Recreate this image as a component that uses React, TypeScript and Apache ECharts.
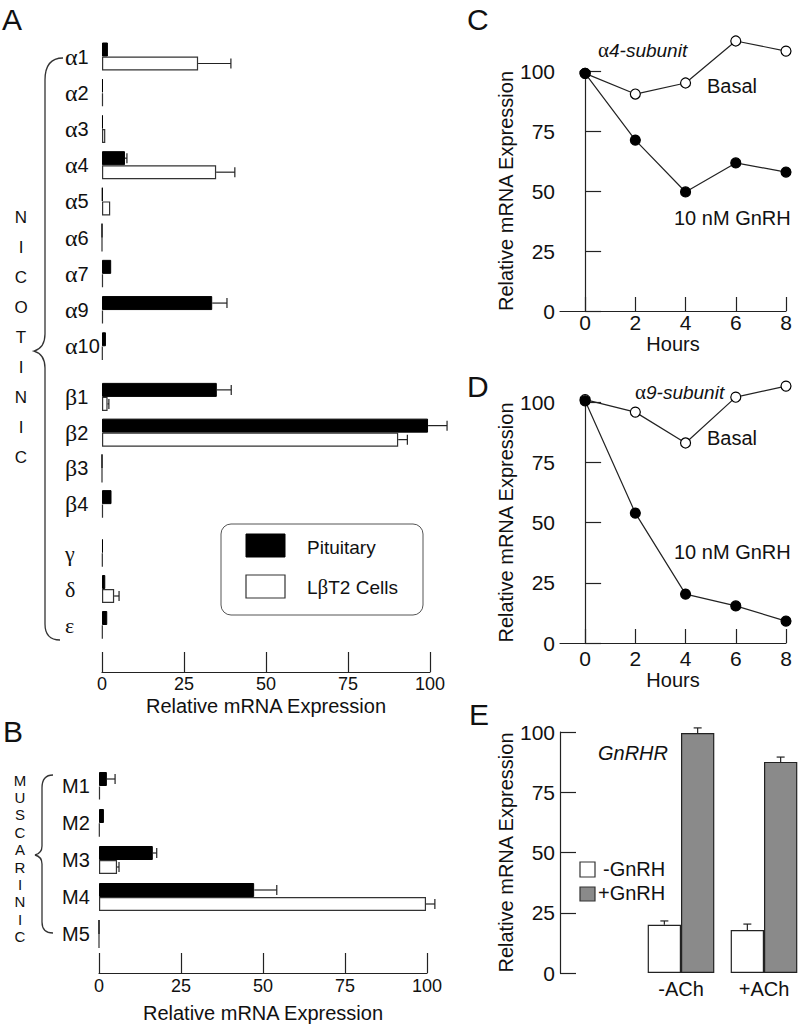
import React, { useEffect, useRef } from 'react';
import * as echarts from 'echarts';

// ---------- data ----------
const alphaCats = ['α1', 'α2', 'α3', 'α4', 'α5', 'α6', 'α7', 'α9', 'α10'];
const alphaPituitary = [1.8, 0.3, 0.3, 7.0, 0.2, 0, 2.8, 33.6, 1.2];
const alphaPituitaryErr = [0, 0, 0, 0.6, 0, 0, 0, 4.5, 0];
const alphaLbt2 = [29.3, 0.3, 1.0, 34.8, 2.5, 0, 0.3, 0.3, 0.2];
const alphaLbt2Err = [10, 0, 0, 5.7, 0, 0, 0, 0, 0];

const betaCats = ['β1', 'β2', 'β3', 'β4'];
const betaPituitary = [35, 99.4, 0, 2.9];
const betaPituitaryErr = [4.4, 5.8, 0, 0];
const betaLbt2 = [1.7, 90.3, 0, 0.3];
const betaLbt2Err = [0.4, 2.8, 0, 0];

const otherCats = ['γ', 'δ', 'ε'];
const otherPituitary = [0.3, 1.0, 1.6];
const otherPituitaryErr = [0, 0, 0];
const otherLbt2 = [0.2, 3.7, 0.2];
const otherLbt2Err = [0, 1.5, 0];

const muscCats = ['M1', 'M2', 'M3', 'M4', 'M5'];
const muscPituitary = [2.4, 1.5, 16.4, 47.3, 0];
const muscPituitaryErr = [2.5, 0, 1.2, 6.9, 0];
const muscLbt2 = [0.3, 0.2, 5.5, 99.7, 0];
const muscLbt2Err = [0, 0, 0.6, 2.7, 0];

const hours = [0, 2, 4, 6, 8];
const a4Basal = [99, 90.4, 95, 112.5, 108.3];
const a4GnRH = [99, 71.2, 49.6, 61.7, 57.9];
const a9Basal = [101, 95.8, 83, 102, 106.6];
const a9GnRH = [100.5, 53.9, 20.3, 15.4, 9.1];

const achCats = ['-ACh', '+ACh'];
const minusGnRH = [20, 17.8];
const minusGnRHErr = [1.6, 2.5];
const plusGnRH = [99.6, 87.6];
const plusGnRHErr = [2.1, 2.0];

const nicotinicWord = 'NICOTINIC';
const muscarinicWord = 'MUSCARINIC';

// ---------- style ----------
const SANS = '"Liberation Sans", Arial, Helvetica, sans-serif';
const SERIF = '"Liberation Serif", "Times New Roman", serif';
const INK = '#111';
const LINE = '#222';
const GRAY = '#8a8a8a';

const BRACE_A =
  'M63,58 C53,58 45,63 45,80 L45,334 C45,344 41,349 34,351 C41,353 45,358 45,368 L45,624 C45,634 50,640 60,640';
const BRACE_B =
  'M53,775 C46,775 42,779 42,788 L42,846 C42,851 39,854 35,855 C39,856 42,859 42,864 L42,922 C42,929 46,933 53,933';

echarts.graphic.registerShape('braceA', echarts.graphic.extendPath(BRACE_A, {}));
echarts.graphic.registerShape('braceB', echarts.graphic.extendPath(BRACE_B, {}));

const greekFormatter = (v: string) => {
  const g = v.charAt(0);
  const rest = v.slice(1);
  if (g === 'M') return `{n|${v}}`;
  if (!rest) return `{s|${g}}`;
  return `{g|${g}}{n|${rest}}`;
};
const greekRich = {
  g: { fontFamily: SERIF, fontSize: 24, color: INK },
  s: { fontFamily: SERIF, fontSize: 22, color: INK },
  n: { fontFamily: SANS, fontSize: 20, color: INK },
};

const hErr = (offset: number) => (_p: any, api: any) => {
  const v = api.value(0);
  const e = api.value(1);
  const c = api.value(2);
  if (!e) return { type: 'group', children: [] };
  const p0 = api.coord([v, c]);
  const p1 = api.coord([v + e, c]);
  const y = p0[1] + offset;
  const st = { stroke: LINE, lineWidth: 1.2 };
  return {
    type: 'group',
    children: [
      { type: 'line', shape: { x1: p0[0], y1: y, x2: p1[0], y2: y }, style: st },
      { type: 'line', shape: { x1: p1[0], y1: y - 5, x2: p1[0], y2: y + 5 }, style: st },
    ],
  };
};

const vErr = (offset: number) => (_p: any, api: any) => {
  const c = api.value(0);
  const v = api.value(1);
  const e = api.value(2);
  const p0 = api.coord([c, v]);
  const p1 = api.coord([c, v + e]);
  const x = p0[0] + offset;
  const st = { stroke: LINE, lineWidth: 1.2 };
  return {
    type: 'group',
    children: [
      { type: 'line', shape: { x1: x, y1: p0[1], x2: x, y2: p1[1] }, style: st },
      { type: 'line', shape: { x1: x - 4, y1: p1[1], x2: x + 4, y2: p1[1] }, style: st },
    ],
  };
};

function hBlock(gi: number, cats: string[], pit: number[], pitErr: number[], lbt: number[], lbtErr: number[]) {
  return [
    {
      type: 'bar', xAxisIndex: gi, yAxisIndex: gi, data: pit, barWidth: 14, barGap: '0%',
      itemStyle: { color: '#000', borderColor: '#000', borderWidth: 1 },
    },
    {
      type: 'bar', xAxisIndex: gi, yAxisIndex: gi, data: lbt, barWidth: 14, barGap: '0%',
      itemStyle: { color: '#fff', borderColor: '#333', borderWidth: 1.2 },
    },
    {
      type: 'custom', xAxisIndex: gi, yAxisIndex: gi, renderItem: hErr(-7), z: 3,
      data: cats.map((_, i) => [pit[i], pitErr[i], i]), encode: { x: 0, y: 2 },
    },
    {
      type: 'custom', xAxisIndex: gi, yAxisIndex: gi, renderItem: hErr(7), z: 3,
      data: cats.map((_, i) => [lbt[i], lbtErr[i], i]), encode: { x: 0, y: 2 },
    },
  ];
}

const catY = (gi: number, cats: string[]) => ({
  type: 'category', gridIndex: gi, data: cats, inverse: true,
  axisLine: { show: false }, axisTick: { show: false }, splitLine: { show: false },
  axisLabel: { margin: 37, align: 'left', formatter: greekFormatter, rich: greekRich, color: INK },
});

const pctX = (gi: number, show: boolean, offset: number, labelMargin: number, nameGap: number) => ({
  type: 'value', gridIndex: gi, min: 0, max: 100, interval: 25, show, offset,
  axisLine: { show: true, lineStyle: { color: LINE, width: 1.2 } },
  axisTick: { show: true, inside: true, length: 20, lineStyle: { color: LINE, width: 1.2 } },
  axisLabel: { fontSize: 18, margin: labelMargin, color: INK, fontFamily: SANS },
  splitLine: { show: false },
  name: 'Relative mRNA Expression', nameLocation: 'middle', nameGap,
  nameTextStyle: { fontSize: 20, color: INK, fontFamily: SANS },
});

const relY = (gi: number, offset = 0) => ({
  type: 'value', gridIndex: gi, min: 0, max: 100, interval: 25, offset,
  axisLine: { show: true, lineStyle: { color: LINE, width: 1.2 } },
  axisTick: { show: true, inside: true, length: 16, lineStyle: { color: LINE, width: 1.2 } },
  axisLabel: { fontSize: 21, margin: 5, color: INK, fontFamily: SANS },
  splitLine: { show: false },
  name: 'Relative mRNA Expression', nameLocation: 'middle', nameGap: 44,
  nameTextStyle: { fontSize: 20, color: INK, fontFamily: SANS },
});

const hoursX = (gi: number, labelMargin: number, nameGap: number) => ({
  type: 'value', gridIndex: gi, min: -1, max: 8,
  axisLine: { show: true, lineStyle: { color: LINE, width: 1.2 } },
  axisTick: { show: true, inside: true, length: 14, customValues: hours, lineStyle: { color: LINE, width: 1.2 } },
  axisLabel: { fontSize: 21, margin: labelMargin, color: INK, fontFamily: SANS, customValues: hours },
  splitLine: { show: false },
  name: 'Hours', nameLocation: 'middle', nameGap,
  nameTextStyle: { fontSize: 20, color: INK, fontFamily: SANS },
});

const lineSeries = (gi: number, vals: number[], filled: boolean) => ({
  type: 'line', xAxisIndex: gi, yAxisIndex: gi, clip: false,
  data: hours.map((h, i) => [h, vals[i]]),
  symbol: 'circle', symbolSize: 10,
  lineStyle: { color: LINE, width: 1.2 },
  itemStyle: { color: filled ? '#000' : '#fff', borderColor: '#000', borderWidth: 1.2 },
  z: filled ? 4 : 3,
});

const txt = (text: string, x: number, y: number, size: number, extra: any = {}) => ({
  type: 'text', x, y,
  style: { text, fontSize: size, fontFamily: SANS, fill: INK, align: 'left', verticalAlign: 'middle', ...extra },
});

const subunitRich = {
  g: { fontFamily: SERIF, fontSize: 21, fill: INK, color: INK },
  i: { fontFamily: SANS, fontSize: 19, fontStyle: 'italic', fill: INK, color: INK },
};

function buildGraphic() {
  const els: any[] = [];
  els.push({ type: 'braceA', x: 0, y: 0, style: { stroke: '#333', lineWidth: 1.3, fill: 'none' } });
  els.push({ type: 'braceB', x: 0, y: 0, style: { stroke: '#333', lineWidth: 1.3, fill: 'none' } });
  nicotinicWord.split('').forEach((ch, i) => {
    els.push(txt(ch, 21, 217 + i * 30, 17, { align: 'center' }));
  });
  muscarinicWord.split('').forEach((ch, i) => {
    els.push(txt(ch, 20, 780 + i * 17.4, 15, { align: 'center' }));
  });
  // panel letters
  els.push(txt('A', 2, 19, 30));
  els.push(txt('B', 3, 731, 30));
  els.push(txt('C', 467, 19, 30));
  els.push(txt('D', 467, 386, 30));
  els.push(txt('E', 469, 714, 30));
  // legend A
  els.push({ type: 'rect', shape: { x: 221, y: 524, width: 202, height: 91, r: 10 }, style: { fill: '#fff', stroke: '#555', lineWidth: 1 } });
  els.push({ type: 'rect', shape: { x: 246, y: 534, width: 39, height: 23 }, style: { fill: '#000', stroke: '#000', lineWidth: 1 } });
  els.push({ type: 'rect', shape: { x: 246, y: 575, width: 39, height: 23 }, style: { fill: '#fff', stroke: '#333', lineWidth: 1.2 } });
  els.push(txt('Pituitary', 307, 547, 19));
  els.push(txt('{n|L}{g|β}{n|T2 Cells}', 307, 587, 19, {
    rich: { n: { fontFamily: SANS, fontSize: 19, fill: INK, color: INK }, g: { fontFamily: SERIF, fontSize: 21, fill: INK, color: INK } },
  }));
  // legend E
  els.push({ type: 'rect', shape: { x: 580, y: 862, width: 15, height: 15 }, style: { fill: '#fff', stroke: '#333', lineWidth: 1.2 } });
  els.push({ type: 'rect', shape: { x: 580, y: 887, width: 15, height: 14 }, style: { fill: GRAY, stroke: '#333', lineWidth: 1.2 } });
  els.push(txt('-GnRH', 603, 869, 20));
  els.push(txt('+GnRH', 598, 893, 20));
  // annotations C
  els.push(txt('{g|α}{i|4-subunit}', 598, 50, 19, { rich: subunitRich }));
  els.push(txt('Basal', 707, 86, 20));
  els.push(txt('10 nM GnRH', 674, 218, 20));
  // annotations D
  els.push(txt('{g|α}{i|9-subunit}', 635, 392, 19, { rich: subunitRich }));
  els.push(txt('Basal', 707, 438, 20));
  els.push(txt('10 nM GnRH', 674, 552, 20));
  // annotation E
  els.push(txt('GnRHR', 598, 753, 20, { fontStyle: 'italic' }));
  return els;
}

export default function App() {
  const ref = useRef<HTMLDivElement>(null);

  useEffect(() => {
    if (!ref.current) return;
    const chart = echarts.init(ref.current, undefined, { renderer: 'svg' });
    const gridBase = { outerBoundsMode: 'none', containLabel: false };
    const option: any = {
      animation: false,
      backgroundColor: '#fff',
      textStyle: { fontFamily: SANS },
      grid: [
        { ...gridBase, left: 102, top: 38.4, width: 328, height: 326 },
        { ...gridBase, left: 102, top: 379, width: 328, height: 143 },
        { ...gridBase, left: 102, top: 535, width: 328, height: 108 },
        { ...gridBase, left: 99, top: 767.5, width: 328, height: 185 },
        { ...gridBase, left: 560, top: 71, width: 226, height: 240 },
        { ...gridBase, left: 560, top: 402, width: 226, height: 241 },
        { ...gridBase, left: 639.5, top: 732, width: 166, height: 241 },
      ],
      xAxis: [
        pctX(0, false, 0, 3, 24),
        pctX(1, false, 0, 3, 24),
        pctX(2, true, 29, 3, 24),
        pctX(3, true, 20.5, 4, 30),
        hoursX(4, 1, 18),
        hoursX(5, 5, 21),
        {
          type: 'category', gridIndex: 6, data: achCats,
          axisLine: { show: false }, axisTick: { show: false }, splitLine: { show: false },
          axisLabel: { fontSize: 20, margin: 6, color: INK, fontFamily: SANS },
        },
      ],
      yAxis: [
        catY(0, alphaCats),
        catY(1, betaCats),
        catY(2, otherCats),
        catY(3, muscCats),
        relY(4),
        relY(5),
        relY(6, 79.5),
      ],
      series: [
        ...hBlock(0, alphaCats, alphaPituitary, alphaPituitaryErr, alphaLbt2, alphaLbt2Err),
        ...hBlock(1, betaCats, betaPituitary, betaPituitaryErr, betaLbt2, betaLbt2Err),
        ...hBlock(2, otherCats, otherPituitary, otherPituitaryErr, otherLbt2, otherLbt2Err),
        ...hBlock(3, muscCats, muscPituitary, muscPituitaryErr, muscLbt2, muscLbt2Err),
        lineSeries(4, a4Basal, false),
        lineSeries(4, a4GnRH, true),
        lineSeries(5, a9Basal, false),
        lineSeries(5, a9GnRH, true),
        {
          type: 'bar', xAxisIndex: 6, yAxisIndex: 6, data: minusGnRH, barWidth: 33.3, barGap: '0%',
          itemStyle: { color: '#fff', borderColor: LINE, borderWidth: 1.2 },
        },
        {
          type: 'bar', xAxisIndex: 6, yAxisIndex: 6, data: plusGnRH, barWidth: 33.3, barGap: '0%',
          itemStyle: { color: GRAY, borderColor: LINE, borderWidth: 1.2 },
        },
        {
          type: 'custom', xAxisIndex: 6, yAxisIndex: 6, renderItem: vErr(-16.65), z: 3,
          data: achCats.map((_, i) => [i, minusGnRH[i], minusGnRHErr[i]]), encode: { x: 0, y: 1 },
        },
        {
          type: 'custom', xAxisIndex: 6, yAxisIndex: 6, renderItem: vErr(16.65), z: 3,
          data: achCats.map((_, i) => [i, plusGnRH[i], plusGnRHErr[i]]), encode: { x: 0, y: 1 },
        },
      ],
      graphic: buildGraphic(),
    };
    chart.setOption(option);
    return () => chart.dispose();
  }, []);

  return (
    <div
      ref={ref}
      style={{ position: 'absolute', left: 0, top: 0, width: 800, height: 1028, background: '#fff' }}
    />
  );
}
